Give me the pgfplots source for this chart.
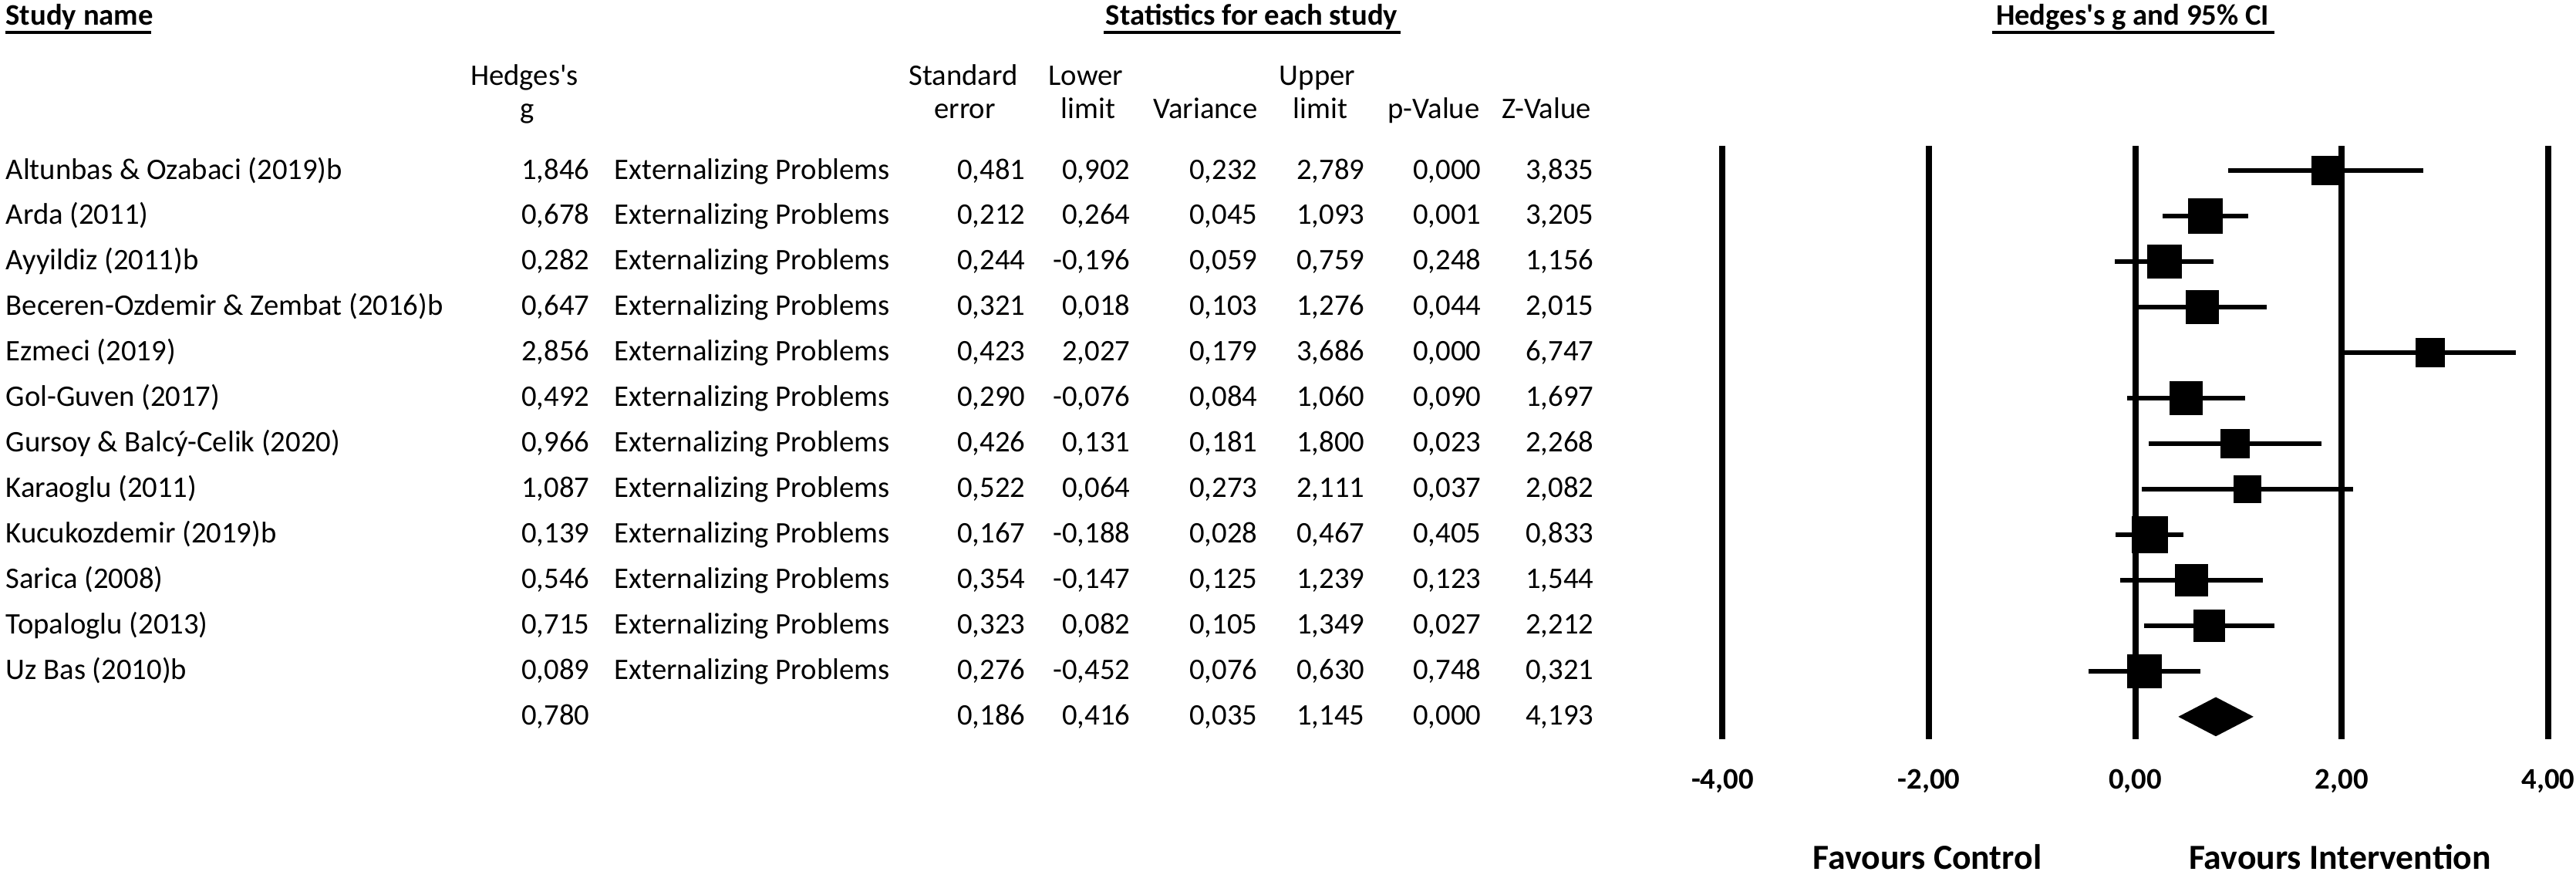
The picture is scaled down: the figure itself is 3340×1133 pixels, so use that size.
\documentclass[border=0pt]{standalone}
\usepackage{pgfplots}
\pgfplotsset{compat=1.18}
\usepackage{pgfplotstable}
\usepackage{fontspec}
\setmainfont{Carlito}

% forest plot data: row, Hedges's g, lower, upper, square side (px)
\pgfplotstableread{
row g ll ul side
1  1.846  0.902 2.789 36
2  0.678  0.264 1.093 44
3  0.282 -0.196 0.759 43
4  0.647  0.018 1.276 42
5  2.856  2.027 3.686 37
6  0.492 -0.076 1.060 42
7  0.966  0.131 1.800 36
8  1.087  0.064 2.111 35
9  0.139 -0.188 0.467 46
10 0.546 -0.147 1.239 41
11 0.715  0.082 1.349 40
12 0.089 -0.452 0.630 43
}\forest

\newcommand\tf{\fontsize{11}{13.2}\selectfont}
\newcommand\bigf{\fontsize{13}{15.6}\selectfont}

% one line of the statistics table
\newcommand\studyrow[9]{%
  \node[anchor=base west] at (7,{232+58.97*(#1-1)}) {#2};
  \node[anchor=base east] at (765,{232+58.97*(#1-1)}) {#3};
  \node[anchor=base east] at (1330,{232+58.97*(#1-1)}) {#4};
  \node[anchor=base east] at (1466,{232+58.97*(#1-1)}) {#5};
  \node[anchor=base east] at (1631,{232+58.97*(#1-1)}) {#6};
  \node[anchor=base east] at (1770,{232+58.97*(#1-1)}) {#7};
  \node[anchor=base east] at (1921,{232+58.97*(#1-1)}) {#8};
  \node[anchor=base east] at (2067,{232+58.97*(#1-1)}) {#9};
}

\begin{document}
\begin{tikzpicture}[font=\tf]
\begin{scope}[x=0.01cm,y=-0.01cm,every node/.style={inner sep=0pt}]
  \useasboundingbox (0,0) rectangle (3340,1133);
  % headers
  \node[anchor=base west,font=\tf\bfseries] at (7,32) {Study name};
  \draw[line width=1.2pt] (7,42) -- (196,42);
  \node[anchor=base,font=\tf\bfseries] at (1623,32) {Statistics for each study};
  \draw[line width=1.2pt] (1431,42) -- (1816,42);
  \node[anchor=base,font=\tf\bfseries] at (2765,32) {Hedges\textquotesingle s g and 95\% CI};
  \draw[line width=1.2pt] (2583,42) -- (2949,42);

  \node[anchor=base] at (680,110) {Hedges\textquotesingle s};
  \node[anchor=base] at (684,153) {g};
  \node[anchor=base] at (1249,110) {Standard};
  \node[anchor=base] at (1251,153) {error};
  \node[anchor=base] at (1408,110) {Lower};
  \node[anchor=base] at (1411,153) {limit};
  \node[anchor=base] at (1563,153) {Variance};
  \node[anchor=base] at (1708,110) {Upper};
  \node[anchor=base] at (1712,153) {limit};
  \node[anchor=base] at (1859,153) {p-Value};
  \node[anchor=base] at (2005,153) {Z-Value};

  \studyrow{1}{Altunbas \& Ozabaci (2019)b}{1,846}{0,481}{0,902}{0,232}{2,789}{0,000}{3,835}
  \studyrow{2}{Arda (2011)}{0,678}{0,212}{0,264}{0,045}{1,093}{0,001}{3,205}
  \studyrow{3}{Ayyildiz (2011)b}{0,282}{0,244}{-0,196}{0,059}{0,759}{0,248}{1,156}
  \studyrow{4}{Beceren-Ozdemir \& Zembat (2016)b}{0,647}{0,321}{0,018}{0,103}{1,276}{0,044}{2,015}
  \studyrow{5}{Ezmeci (2019)}{2,856}{0,423}{2,027}{0,179}{3,686}{0,000}{6,747}
  \studyrow{6}{Gol-Guven (2017)}{0,492}{0,290}{-0,076}{0,084}{1,060}{0,090}{1,697}
  \studyrow{7}{Gursoy \& Balcý-Celik (2020)}{0,966}{0,426}{0,131}{0,181}{1,800}{0,023}{2,268}
  \studyrow{8}{Karaoglu (2011)}{1,087}{0,522}{0,064}{0,273}{2,111}{0,037}{2,082}
  \studyrow{9}{Kucukozdemir (2019)b}{0,139}{0,167}{-0,188}{0,028}{0,467}{0,405}{0,833}
  \studyrow{10}{Sarica (2008)}{0,546}{0,354}{-0,147}{0,125}{1,239}{0,123}{1,544}
  \studyrow{11}{Topaloglu (2013)}{0,715}{0,323}{0,082}{0,105}{1,349}{0,027}{2,212}
  \studyrow{12}{Uz Bas (2010)b}{0,089}{0,276}{-0,452}{0,076}{0,630}{0,748}{0,321}
  \studyrow{13}{}{0,780}{0,186}{0,416}{0,035}{1,145}{0,000}{4,193}
  \foreach \i in {1,...,12}
    \node[anchor=base west] at (796,{232+58.97*(\i-1)}) {Externalizing Problems};

  \node[anchor=base,font=\bigf\bfseries] at (2499,1126) {Favours Control};
  \node[anchor=base,font=\bigf\bfseries] at (3034,1126) {Favours Intervention};
\end{scope}

\begin{axis}[
    at={(22.32cm,-1.893cm)}, anchor=north west,
    scale only axis, width=10.70cm, height=7.684cm,
    xmin=-4, xmax=4, ymin=0.4675, ymax=13.4986,
    y dir=reverse, clip=false,
    axis line style={draw=none},
    ytick=\empty,
    xtick={-4,-2,0,2,4},
    xticklabels={{-4,00},{-2,00},{0,00},{2,00},{4,00}},
    major tick length=0pt,
    xmajorgrids,
    major grid style={black, line width=2.2pt},
    xticklabel style={font=\tf\bfseries, anchor=base, inner sep=0pt, yshift=-0.64cm},
]
  % confidence intervals
  \addplot[only marks, mark=none,
    error bars/.cd, x dir=both, x explicit, error mark=none,
    error bar style={black, line width=1.8pt}]
    table[x=g, y=row,
      x error plus expr=\thisrow{ul}-\thisrow{g},
      x error minus expr=\thisrow{g}-\thisrow{ll}] {\forest};
  % study squares, sized by weight
  \addplot[scatter, only marks, mark=square*,
    scatter/use mapped color={draw=none, fill=black},
    visualization depends on={0.1423*\thisrow{side} \as \ms},
    scatter/@pre marker code/.append style={/tikz/mark size=\ms}]
    table[x=g, y=row] {\forest};
  % summary diamond
  \addplot[fill=black, draw=none]
    coordinates {(0.416,13) (0.780,12.57) (1.145,13) (0.780,13.43)} -- cycle;
\end{axis}
\end{tikzpicture}
\end{document}
